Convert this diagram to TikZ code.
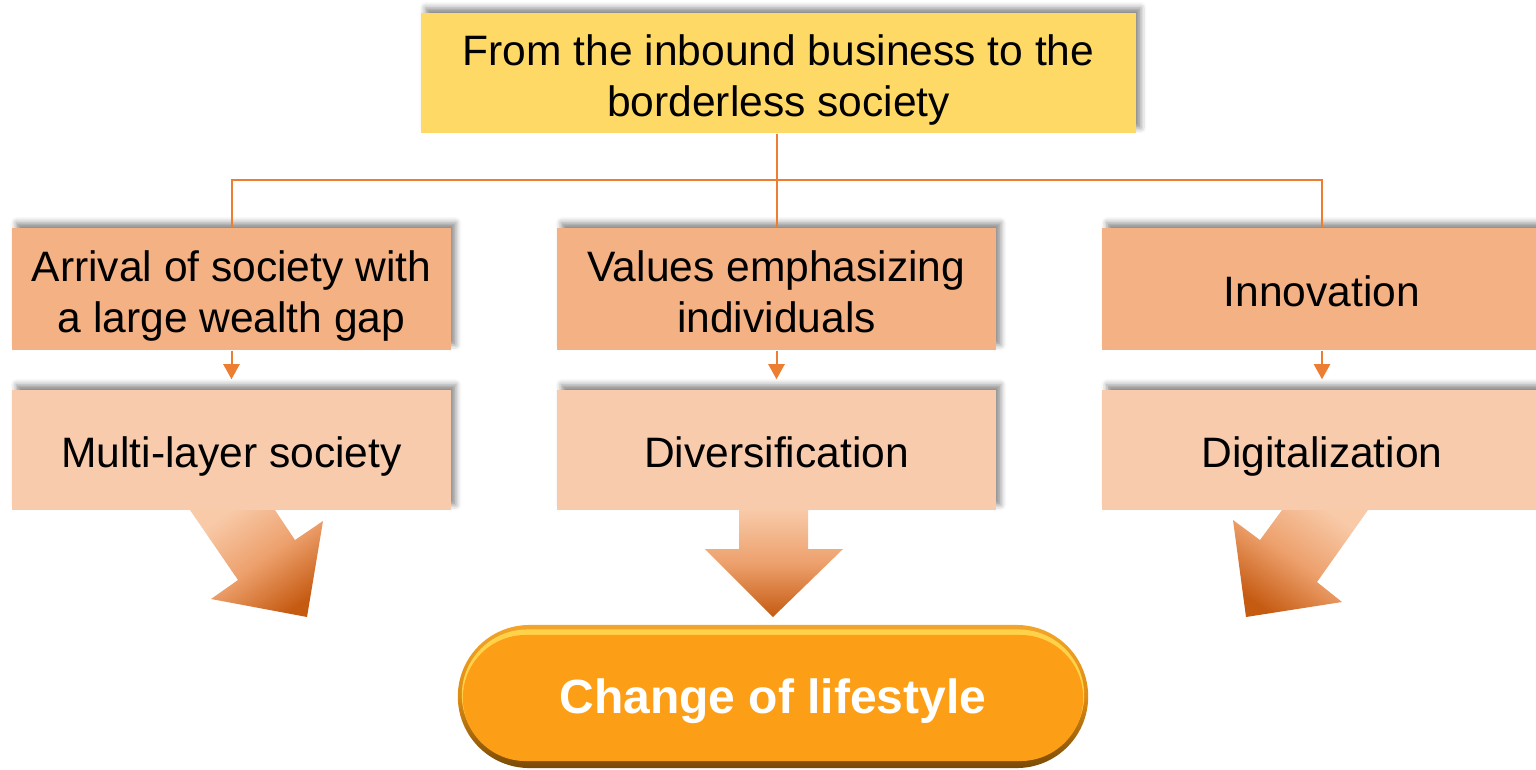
\documentclass[tikz,border=0pt]{standalone}
\usepackage{fontspec}
\setmainfont{Liberation Sans}
\usetikzlibrary{arrows.meta,shapes.misc,shadows.blur}
\definecolor{topfill}{HTML}{FFD966}
\definecolor{midfill}{HTML}{F4B183}
\definecolor{lowfill}{HTML}{F8CBAD}
\definecolor{conn}{HTML}{ED7D31}
\definecolor{arrlight}{HTML}{F8CAA8}
\definecolor{arrmid}{HTML}{EDA06C}
\definecolor{arrdark}{HTML}{C55A11}
\definecolor{pillorange}{HTML}{FD9F16}
\definecolor{pillyellow}{HTML}{FFD24A}
\definecolor{pilldarktop}{HTML}{F2A52A}
\definecolor{pilldarkmid}{HTML}{DF8C12}
\definecolor{pilldarkbot}{HTML}{7A4A06}
\newcommand\mytopstrut{\rule{0pt}{13pt}}
\newcommand\mybotstrut{\rule[-2.8pt]{0pt}{2.8pt}}
\newcommand\mypilltop{\rule{0pt}{11.8pt}}
\newcommand\mypillbot{\rule[-3pt]{0pt}{3pt}}
\begin{document}
\begin{tikzpicture}[x=0.01cm,y=-0.01cm,
  box/.style={rectangle, inner sep=0pt, align=center,
    font=\fontsize{12.1}{14.4}\selectfont,
    blur shadow={shadow xshift=1.3pt, shadow yshift=1.5pt, shadow blur radius=1.6pt, shadow opacity=45}},
  topbox/.style={box, fill=topfill, minimum width=7.15cm, minimum height=1.2cm},
  midbox/.style={box, fill=midfill, minimum width=4.39cm, minimum height=1.22cm},
  lowbox/.style={box, fill=lowfill, minimum width=4.39cm, minimum height=1.2cm},
  link/.style={draw=conn, line width=0.57pt},
  smallarrow/.style={link, -{Triangle[length=4.3pt,width=4.6pt]}, shorten >=0.1cm},
  pilllayer/.style={rounded rectangle, inner sep=0pt, draw=none},
]
\useasboundingbox (0,0) rectangle (1536,769);

% boxes
\node[topbox] (top) at (778.5,73) {\mytopstrut From the inbound business to the\\borderless society\mybotstrut};
\node[midbox] (b1) at (231.5,289) {\mytopstrut Arrival of society with\\a large wealth gap\mybotstrut};
\node[midbox] (b2) at (776.5,289) {\mytopstrut Values emphasizing\\individuals\mybotstrut};
\node[midbox] (b3) at (1322,289) {\mytopstrut Innovation\mybotstrut};
\node[lowbox] (c1) at (231.5,450) {\mytopstrut Multi-layer society\mybotstrut};
\node[lowbox] (c2) at (776.5,450) {\mytopstrut Diversification\mybotstrut};
\node[lowbox] (c3) at (1322,450) {\mytopstrut Digitalization\mybotstrut};

% connectors
\coordinate (junc) at (776.5,180);
\draw[link] (b2.north |- top.south) -- (b2.north);
\draw[link] (junc) -| (b1.north);
\draw[link] (junc) -| (b3.north);
\draw[smallarrow] (b1.south) -- (c1.north);
\draw[smallarrow] (b2.south) -- (c2.north);
\draw[smallarrow] (b3.south) -- (c3.north);

% big gradient arrows
\shade[top color=arrlight, bottom color=arrdark, middle color=arrmid, shading angle=35]
  (190,510) -- (275,510) -- (295,540) -- (323,521) -- (307,617) -- (211,599) -- (238,580) -- cycle;
\shade[top color=arrlight, bottom color=arrdark, middle color=arrmid]
  (739,510) -- (808,510) -- (808,549) -- (843,549) -- (773,617) -- (705,549) -- (739,549) -- cycle;
\shade[top color=arrlight, bottom color=arrdark, middle color=arrmid, shading angle=-35]
  (1282,510) -- (1368,510) -- (1317,582) -- (1342,602) -- (1246,617) -- (1233,520) -- (1260,540) -- cycle;

% pill
\node[pilllayer, minimum width=6.3cm, minimum height=1.43cm,
  top color=pilldarktop, bottom color=pilldarkbot, middle color=pilldarkmid] (pillbase) at (773,696.5) {};
\node[pilllayer, fill=pillyellow, minimum width=6.22cm, minimum height=1.31cm] (pillhl) at (773,695) {};
\node[pilllayer, fill=pillorange, minimum width=6.2cm, minimum height=1.26cm, text=white,
  font=\fontsize{13.65}{16}\selectfont\bfseries] (life) at (773,698) {\mypilltop Change of lifestyle\mypillbot};
\end{tikzpicture}
\end{document}
